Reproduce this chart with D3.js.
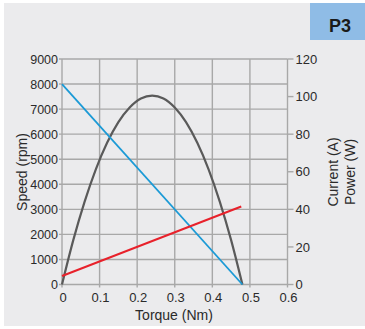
<!DOCTYPE html>
<html><head><meta charset="utf-8">
<script src="https://cdn.jsdelivr.net/npm/d3@7"></script>
<style>body{margin:0;background:#fff}svg{display:block}</style>
</head><body>
<svg id="c" width="365" height="329"></svg>
<script>
const torqueTicks = [0, 0.1, 0.2, 0.3, 0.4, 0.5, 0.6];
const speedTicks = [0,1000,2000,3000,4000,5000,6000,7000,8000,9000];
const rightTicks = [0,20,40,60,80,100,120];
const speedTorque = [0, 0.48];
const speedValues = [8000, 0];
const currentTorque = [0, 0.477];
const currentValues = [4.5, 41.5];
const powerTorque = [0,0.03,0.06,0.09,0.12,0.15,0.18,0.21,0.24,0.27,0.30,0.33,0.36,0.39,0.42,0.45,0.48];
const powerValues = [0,23.6,44,61.3,75.4,86.4,94.2,99,100.5,99,94.2,86.4,75.4,61.3,44,23.6,0];

const svg = d3.select("#c");
const font = "'Liberation Sans', Arial, sans-serif";
svg.append("rect").attr("x",4).attr("y",3).attr("width",361).attr("height",323).attr("fill","#ebebed");
svg.append("rect").attr("x",310).attr("y",3).attr("width",55).attr("height",37).attr("fill","#8fbce6");
svg.append("text").attr("x",340).attr("y",32).attr("text-anchor","middle").attr("font-family",font)
  .attr("font-weight","bold").attr("font-size",18).attr("fill","#1a1a1a").text("P3");

const L=62, R=287.5, T=59, B=284.5;
const x = d3.scaleLinear().domain([0,0.6]).range([L,R]);
const y = d3.scaleLinear().domain([0,9000]).range([B,T]);
const y2 = d3.scaleLinear().domain([0,120]).range([B,T]);
const grid = "#a8a8a8";
const g = svg.append("g");
g.selectAll(".v").data(torqueTicks).join("line").attr("x1",d=>x(d)).attr("x2",d=>x(d))
  .attr("y1",T).attr("y2",B+3).attr("stroke",grid).attr("stroke-width",1.4);
g.selectAll(".h").data(speedTicks).join("line").attr("y1",d=>y(d)).attr("y2",d=>y(d))
  .attr("x1",L-3).attr("x2",R).attr("stroke",grid).attr("stroke-width",1.4);
g.selectAll(".rt").data(rightTicks).join("line").attr("y1",d=>y2(d)).attr("y2",d=>y2(d))
  .attr("x1",R).attr("x2",R+6).attr("stroke",grid).attr("stroke-width",1.4);

const tc = "#2a2a2a", fs = 12.5, ts = 14;
g.selectAll(".ly").data(speedTicks).join("text").attr("x",L-4).attr("y",d=>y(d)).attr("dy","0.36em")
  .attr("text-anchor","end").attr("font-family",font).attr("font-size",fs).attr("fill",tc).text(d=>d);
g.selectAll(".ry").data(rightTicks).join("text").attr("x",R+8).attr("y",d=>y2(d)).attr("dy","0.36em")
  .attr("text-anchor","start").attr("font-family",font).attr("font-size",13).attr("fill",tc).text(d=>d);
g.selectAll(".bx").data(torqueTicks).join("text").attr("x",d=>x(d)+1).attr("y",B+17)
  .attr("text-anchor","middle").attr("font-family",font).attr("font-size",13).attr("fill",tc).text(d=>d);

svg.append("text").attr("x",174).attr("y",320).attr("text-anchor","middle").attr("font-family",font)
  .attr("font-size",ts).attr("fill",tc).text("Torque (Nm)");
svg.append("text").attr("transform","translate(26.5,172) rotate(-90)").attr("text-anchor","middle")
  .attr("font-family",font).attr("font-size",ts).attr("fill",tc).text("Speed (rpm)");
svg.append("text").attr("transform","translate(338,172) rotate(-90)").attr("text-anchor","middle")
  .attr("font-family",font).attr("font-size",ts).attr("fill",tc).text("Current (A)");
svg.append("text").attr("transform","translate(355,172) rotate(-90)").attr("text-anchor","middle")
  .attr("font-family",font).attr("font-size",ts).attr("fill",tc).text("Power (W)");

const line2 = d3.line().x(d=>x(d[0])).y(d=>y2(d[1])).curve(d3.curveMonotoneX);
svg.append("path").datum(powerTorque.map((t,i)=>[t,powerValues[i]])).attr("d",line2)
  .attr("fill","none").attr("stroke","#5a5a5a").attr("stroke-width",2.2);
svg.append("path").datum(speedTorque.map((t,i)=>[t,speedValues[i]]))
  .attr("d",d3.line().x(d=>x(d[0])).y(d=>y(d[1])))
  .attr("fill","none").attr("stroke","#1b9ad6").attr("stroke-width",1.8);
svg.append("path").datum(currentTorque.map((t,i)=>[t,currentValues[i]])).attr("d",d3.line().x(d=>x(d[0])).y(d=>y2(d[1])))
  .attr("fill","none").attr("stroke","#e8212b").attr("stroke-width",2);
</script>
</body></html>
